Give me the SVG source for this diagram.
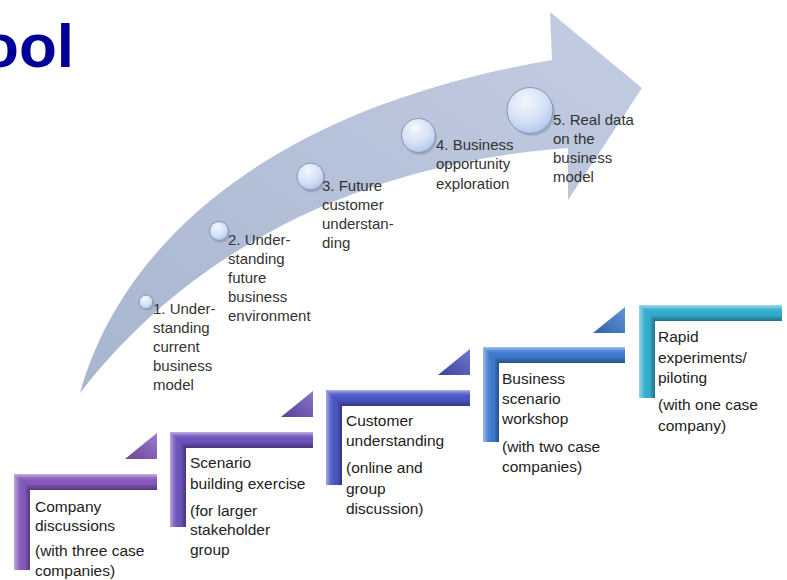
<svg xmlns="http://www.w3.org/2000/svg" width="787" height="580" viewBox="0 0 787 580">
<defs>
<linearGradient id="arrowGrad" x1="0" y1="1" x2="1" y2="0">
<stop offset="0" stop-color="#a7b5cf"/>
<stop offset="1" stop-color="#c3cde2"/>
</linearGradient>
<radialGradient id="circGrad" cx="0.4" cy="0.3" r="0.75">
<stop offset="0" stop-color="#f4f7fd"/>
<stop offset="0.6" stop-color="#d3e0f5"/>
<stop offset="1" stop-color="#aec4ea"/>
</radialGradient>
<linearGradient id="hShade" x1="0" y1="0" x2="0" y2="1">
<stop offset="0" stop-color="#ffffff" stop-opacity="0.55"/>
<stop offset="0.25" stop-color="#ffffff" stop-opacity="0.1"/>
<stop offset="0.6" stop-color="#000000" stop-opacity="0"/>
<stop offset="1" stop-color="#000000" stop-opacity="0.35"/>
</linearGradient>
<linearGradient id="vShade" x1="0" y1="0" x2="1" y2="0">
<stop offset="0" stop-color="#ffffff" stop-opacity="0.5"/>
<stop offset="0.3" stop-color="#ffffff" stop-opacity="0.1"/>
<stop offset="0.65" stop-color="#000000" stop-opacity="0"/>
<stop offset="1" stop-color="#000000" stop-opacity="0.35"/>
</linearGradient>
<linearGradient id="tShade" x1="0" y1="1" x2="1" y2="0">
<stop offset="0" stop-color="#000000" stop-opacity="0.2"/>
<stop offset="1" stop-color="#ffffff" stop-opacity="0.2"/>
</linearGradient>
</defs>
<style>
.title{font-family:"Liberation Sans",Arial,sans-serif;font-weight:bold;font-size:62px;fill:#000099}
.lbl{font-family:"Liberation Sans",Arial,sans-serif;font-size:15px;fill:#333333}
.btx{font-family:"Liberation Sans",Arial,sans-serif;font-size:15.5px;fill:#222222}
.circ{fill:url(#circGrad);stroke:#8395b6;stroke-width:1}
.shadow{fill:#6f7f9c;opacity:0.35}
.hs{fill:url(#hShade)}
.vs{fill:url(#vShade)}
.ts{fill:url(#tShade)}
.c1{fill:#8458bd}
.c2{fill:#6d52bd}
.c3{fill:#4b55c4}
.c4{fill:#3d7bcf}
.c5{fill:#33aecf}
</style>

<text class="title" x="74" y="67" text-anchor="end">ool</text>

<g id="arrow">
<path d="M 80,393 C 120,250 260,110 552,60 L 550,12 L 642,88 L 568,200 L 568,148 C 400,160 210,225 80,393 Z" fill="url(#arrowGrad)"/>
</g>

<g id="step1">
<circle class="shadow" cx="147.5" cy="303.5" r="7"/>
<circle class="circ" cx="146" cy="302" r="7"/>
<text class="lbl"><tspan x="153" y="314">1. Under-</tspan><tspan x="153" y="333">standing</tspan><tspan x="153" y="352">current</tspan><tspan x="153" y="371">business</tspan><tspan x="153" y="390">model</tspan></text>
</g>
<g id="step2">
<circle class="shadow" cx="220.5" cy="233.5" r="9.5"/>
<circle class="circ" cx="219" cy="231" r="9.5"/>
<text class="lbl"><tspan x="228" y="245">2. Under-</tspan><tspan x="228" y="264">standing</tspan><tspan x="228" y="283">future</tspan><tspan x="228" y="302">business</tspan><tspan x="228" y="321">environment</tspan></text>
</g>
<g id="step3">
<circle class="shadow" cx="312" cy="179" r="13.5"/>
<circle class="circ" cx="310.5" cy="176.5" r="13.5"/>
<text class="lbl"><tspan x="322" y="191">3. Future</tspan><tspan x="322" y="210">customer</tspan><tspan x="322" y="229">understan-</tspan><tspan x="322" y="248">ding</tspan></text>
</g>
<g id="step4">
<circle class="shadow" cx="420" cy="138" r="17"/>
<circle class="circ" cx="418.5" cy="135.5" r="17"/>
<text class="lbl"><tspan x="436" y="150">4. Business</tspan><tspan x="436" y="169">opportunity</tspan><tspan x="436" y="189">exploration</tspan></text>
</g>
<g id="step5">
<circle class="shadow" cx="532" cy="113" r="23"/>
<circle class="circ" cx="530" cy="110.5" r="23"/>
<text class="lbl"><tspan x="553" y="125">5. Real data</tspan><tspan x="553" y="144">on the</tspan><tspan x="553" y="163">business</tspan><tspan x="553" y="182">model</tspan></text>
</g>

<g id="connectors">
<polygon class="c1" points="125,459 157,433 157,459"/>
<polygon class="ts" points="125,459 157,433 157,459"/>
<polygon class="c2" points="281,417 313,391 313,417"/>
<polygon class="ts" points="281,417 313,391 313,417"/>
<polygon class="c3" points="438,375 470,349 470,375"/>
<polygon class="ts" points="438,375 470,349 470,375"/>
<polygon class="c4" points="593,333 625,307 625,333"/>
<polygon class="ts" points="593,333 625,307 625,333"/>
</g>

<g id="bracket1">
<path class="c1" d="M14,474 H157 V490 H30 V570 H14 Z"/>
<path class="hs" d="M14,474 H157 V490 H30 Z"/>
<path class="vs" d="M14,474 L30,490 V570 H14 Z"/>
<text class="btx"><tspan x="35" y="512">Company</tspan><tspan x="35" y="531">discussions</tspan><tspan x="35" y="556">(with three case</tspan><tspan x="35" y="576">companies)</tspan></text>
</g>
<g id="bracket2">
<path class="c2" d="M170,432 H313 V448 H186 V527 H170 Z"/>
<path class="hs" d="M170,432 H313 V448 H186 Z"/>
<path class="vs" d="M170,432 L186,448 V527 H170 Z"/>
<text class="btx"><tspan x="190" y="468">Scenario</tspan><tspan x="190" y="489">building exercise</tspan><tspan x="190" y="516">(for larger</tspan><tspan x="190" y="535">stakeholder</tspan><tspan x="190" y="555">group</tspan></text>
</g>
<g id="bracket3">
<path class="c3" d="M326,390 H470 V406 H342 V485 H326 Z"/>
<path class="hs" d="M326,390 H470 V406 H342 Z"/>
<path class="vs" d="M326,390 L342,406 V485 H326 Z"/>
<text class="btx"><tspan x="346" y="426">Customer</tspan><tspan x="346" y="446">understanding</tspan><tspan x="346" y="473">(online and</tspan><tspan x="346" y="494">group</tspan><tspan x="346" y="514">discussion)</tspan></text>
</g>
<g id="bracket4">
<path class="c4" d="M483,347 H625 V363 H499 V442 H483 Z"/>
<path class="hs" d="M483,347 H625 V363 H499 Z"/>
<path class="vs" d="M483,347 L499,363 V442 H483 Z"/>
<text class="btx"><tspan x="502" y="384">Business</tspan><tspan x="502" y="404">scenario</tspan><tspan x="502" y="424">workshop</tspan><tspan x="502" y="452">(with two case</tspan><tspan x="502" y="472">companies)</tspan></text>
</g>
<g id="bracket5">
<path class="c5" d="M639,305 H782 V321 H655 V398 H639 Z"/>
<path class="hs" d="M639,305 H782 V321 H655 Z"/>
<path class="vs" d="M639,305 L655,321 V398 H639 Z"/>
<text class="btx"><tspan x="658" y="342">Rapid</tspan><tspan x="658" y="363">experiments/</tspan><tspan x="658" y="383">piloting</tspan><tspan x="658" y="410">(with one case</tspan><tspan x="658" y="431">company)</tspan></text>
</g>
</svg>
